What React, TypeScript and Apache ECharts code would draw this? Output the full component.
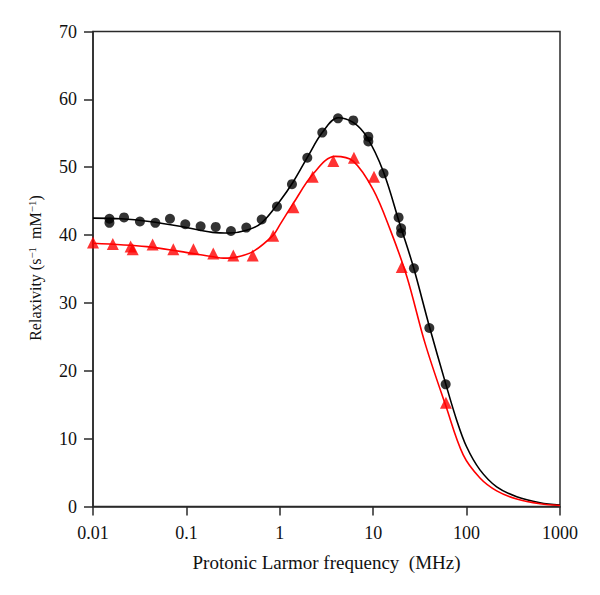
import React, { useEffect, useRef } from "react";
import * as echarts from "echarts";

// Measured data (frequency MHz, relaxivity)
const blackPointsX = [0.015, 0.015, 0.0215, 0.0318, 0.0465, 0.0667, 0.0973, 0.142, 0.206, 0.30, 0.438, 0.64, 0.933, 1.35, 1.97, 2.85, 4.2, 6.12, 8.87, 8.87, 12.9, 18.7, 19.9, 19.9, 27.3, 39.9, 59.7];
const blackPointsY = [42.4, 41.8, 42.6, 42.0, 41.8, 42.4, 41.6, 41.3, 41.2, 40.6, 41.1, 42.3, 44.2, 47.5, 51.4, 55.1, 57.2, 56.9, 54.5, 53.8, 49.1, 42.6, 41.0, 40.3, 35.1, 26.3, 18.0];

const redPointsX = [0.01, 0.0163, 0.0253, 0.0266, 0.0435, 0.0724, 0.119, 0.194, 0.318, 0.513, 0.85, 1.4, 2.25, 3.74, 6.22, 10.2, 20.2, 60.1];
const redPointsY = [38.9, 38.7, 38.3, 37.9, 38.6, 37.9, 37.9, 37.3, 37.0, 37.0, 39.9, 44.1, 48.6, 50.9, 51.4, 48.6, 35.3, 15.3];

// Fitted curves
const blackFitX = [0.01, 0.02, 0.04, 0.085, 0.19, 0.29, 0.44, 0.64, 1.0, 1.4, 2.0, 2.85, 4.2, 6.1, 8.5, 12.8, 19.4, 26.8, 40, 60, 78, 100, 139, 210, 344, 611, 1000];
const blackFitY = [42.5, 42.4, 42.0, 41.3, 40.4, 40.3, 40.7, 41.8, 45.0, 47.9, 51.6, 55.1, 57.3, 56.6, 54.5, 49.4, 41.5, 35.4, 26.5, 18.0, 12.8, 8.8, 5.4, 2.9, 1.45, 0.56, 0.2];

const redFitX = [0.01, 0.0376, 0.085, 0.194, 0.25, 0.345, 0.52, 0.85, 1.0, 1.4, 2.3, 3.9, 6.1, 10, 15.2, 22.9, 36, 60, 92, 139, 210, 344, 611, 1000];
const redFitY = [38.8, 38.3, 37.6, 36.8, 36.6, 36.75, 37.6, 40.0, 41.5, 44.7, 49.1, 51.6, 50.9, 46.7, 40.8, 33.9, 24.0, 14.8, 7.6, 4.2, 2.3, 1.1, 0.4, 0.15];

const xTickLabels = ["0.01", "0.1", "1", "10", "100", "1000"];
const yTicks = [0, 10, 20, 30, 40, 50, 60, 70];

const zip = (xs: number[], ys: number[]) => xs.map((x, i) => [x, ys[i]]);

const FONT = "'Liberation Serif', 'Times New Roman', serif";
const AXIS_COLOR = "#2a2a2a";

export default function App() {
  const ref = useRef<HTMLDivElement>(null);
  useEffect(() => {
    if (!ref.current) return;
    const chart = echarts.init(ref.current, undefined, { renderer: "svg" });
    chart.setOption({
      animation: false,
      backgroundColor: "#ffffff",
      grid: {
        left: 93,
        right: 40,
        top: 31.5,
        bottom: 88.5,
        show: true,
        borderColor: AXIS_COLOR,
        borderWidth: 1.5,
        backgroundColor: "transparent",
      },
      graphic: [
        {
          type: "text",
          x: 35,
          y: 268,
          rotation: Math.PI / 2,
          style: {
            text: "Relaxivity (s{sup|−1}  mM{sup|−1})",
            align: "center",
            verticalAlign: "middle",
            fontFamily: FONT,
            fontSize: 16,
            fill: "#111",
            rich: {
              sup: { fontFamily: FONT, fontSize: 11, verticalAlign: "top", fill: "#111", lineHeight: 18 },
            },
          },
        },
      ],
      xAxis: {
        type: "log",
        logBase: 10,
        min: 0.01,
        max: 1000,
        name: "Protonic Larmor frequency  (MHz)",
        nameLocation: "middle",
        nameGap: 46,
        nameTextStyle: { fontFamily: FONT, fontSize: 19, color: "#111" },
        axisLine: { show: true, lineStyle: { color: AXIS_COLOR, width: 1.5 } },
        axisTick: { show: true, inside: false, length: 9, lineStyle: { color: AXIS_COLOR, width: 1.5 } },
        minorTick: { show: false },
        splitLine: { show: false },
        axisLabel: {
          margin: 17,
          fontFamily: FONT,
          fontSize: 18,
          color: "#111",
          formatter: (v: number) => {
            const idx = Math.round(Math.log10(v)) + 2;
            return xTickLabels[idx] ?? String(v);
          },
        },
      },
      yAxis: {
        type: "value",
        min: 0,
        max: 70,
        interval: 10,
        axisLine: { show: true, lineStyle: { color: AXIS_COLOR, width: 1.5 } },
        axisTick: { show: true, inside: false, length: 9, lineStyle: { color: AXIS_COLOR, width: 1.5 } },
        splitLine: { show: false },
        axisLabel: {
          margin: 16,
          fontFamily: FONT,
          fontSize: 18,
          color: "#111",
          formatter: (v: number) => (yTicks.includes(v) ? String(v) : ""),
        },
      },
      series: [
        {
          type: "line",
          data: zip(blackFitX, blackFitY),
          smooth: 0.35,
          showSymbol: false,
          lineStyle: { color: "#000000", width: 1.6 },
          z: 2,
        },
        {
          type: "line",
          data: zip(redFitX, redFitY),
          smooth: 0.35,
          showSymbol: false,
          lineStyle: { color: "#ff0000", width: 1.6 },
          z: 2,
        },
        {
          type: "scatter",
          data: zip(blackPointsX, blackPointsY),
          symbol: "circle",
          symbolSize: 10,
          itemStyle: { color: "#000000" },
          z: 3,
        },
        {
          type: "scatter",
          data: zip(redPointsX, redPointsY),
          symbol: "triangle",
          symbolSize: 12,
          itemStyle: { color: "#ff0000" },
          z: 3,
        },
      ],
    });
    return () => chart.dispose();
  }, []);
  return <div ref={ref} style={{ width: 600, height: 595, margin: -8 }} />;
}
